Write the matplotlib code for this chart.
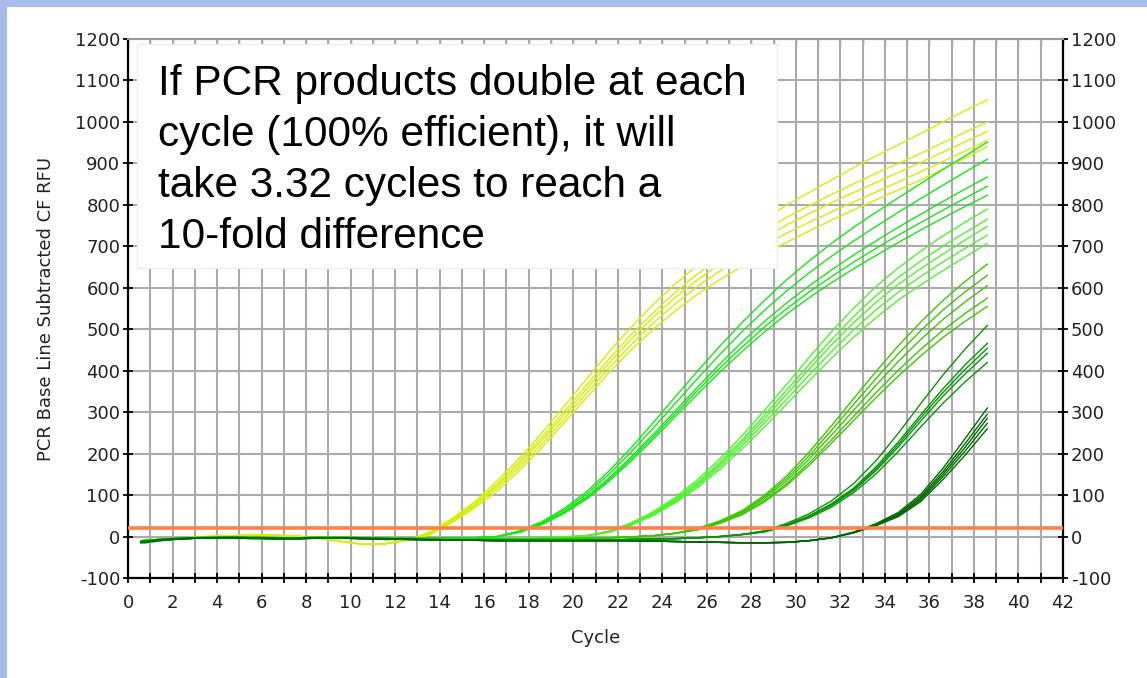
import numpy as np
import matplotlib
matplotlib.use('Agg')
import matplotlib.pyplot as plt
from matplotlib.patches import Rectangle
from matplotlib.ticker import MultipleLocator

plt.rcParams['axes.unicode_minus'] = False

# amplification curves, one reading per cycle (baseline part + exponential/plateau part)
cycle = np.arange(1, 40) - 0.4
threshold = 20

yellow_base = [-14, -8, -3, 0, 2, 3, 3, 1, -4, -12, -19, -17, -8]
yellow_rise = [
    [12, 45, 85, 135, 190, 250, 315, 380, 445, 505, 560, 610, 655, 695, 730, 765, 800, 830, 860, 890, 918, 945, 972, 1000, 1027, 1053],
    [10, 42, 80, 128, 182, 240, 302, 365, 428, 487, 540, 590, 634, 673, 708, 740, 770, 798, 825, 851, 876, 900, 924, 950, 975, 1000],
    [9, 40, 78, 124, 176, 233, 294, 356, 418, 476, 529, 577, 620, 658, 692, 723, 752, 779, 805, 830, 854, 878, 902, 927, 952, 977],
    [7, 38, 74, 118, 168, 224, 284, 346, 406, 463, 515, 562, 604, 641, 674, 704, 732, 758, 783, 807, 831, 855, 880, 905, 930, 955],
    [5, 35, 70, 110, 160, 215, 275, 335, 395, 450, 500, 545, 585, 620, 652, 682, 710, 737, 763, 788, 812, 836, 860, 886, 913, 940],
]

green2_base = [-16, -9, -5, -3, -3, -5, -6, -5, -3, -3, -5, -7, -6, -5, -4, -3, 0]
green2_rise = [
    [14, 36, 68, 108, 158, 214, 275, 338, 400, 460, 517, 570, 620, 665, 707, 746, 782, 817, 851, 885, 918, 951],
    [13, 34, 64, 102, 150, 204, 262, 322, 382, 440, 495, 546, 593, 636, 676, 713, 748, 782, 815, 847, 879, 910],
    [12, 32, 60, 96, 141, 192, 247, 304, 361, 417, 470, 519, 564, 605, 643, 679, 713, 746, 777, 808, 838, 867],
    [11, 31, 58, 93, 137, 187, 241, 297, 353, 407, 458, 506, 550, 590, 627, 662, 695, 727, 757, 787, 816, 845],
    [10, 29, 56, 90, 133, 182, 235, 290, 344, 397, 447, 494, 537, 576, 612, 646, 678, 709, 739, 768, 796, 823],
]

green3_base = [-12, -7, -4, -2, -2, -3, -4, -3, -2, -2, -3, -4, -5, -5, -6, -6, -5, -4, -3, -1, 2]
green3_rise = [
    [13, 33, 60, 95, 138, 188, 244, 305, 368, 432, 494, 551, 603, 648, 688, 725, 758, 790],
    [12, 31, 57, 91, 132, 180, 234, 293, 354, 415, 475, 531, 581, 625, 664, 700, 733, 765],
    [12, 30, 55, 88, 128, 175, 228, 285, 344, 404, 462, 516, 565, 608, 646, 681, 715, 748],
    [11, 29, 53, 85, 124, 169, 220, 275, 332, 390, 446, 499, 547, 589, 627, 662, 695, 727],
    [10, 27, 51, 82, 119, 163, 212, 265, 320, 376, 430, 481, 528, 570, 607, 641, 674, 707],
]

green4_base = [-10, -6, -3, -2, -1, -2, -3, -3, -2, -2, -3, -4, -4, -5, -5, -6, -6, -6, -5, -5, -4, -3, -1, 2, 8]
green4_rise = [
    [20, 38, 63, 100, 147, 204, 267, 333, 398, 460, 517, 569, 615, 657],
    [19, 36, 60, 96, 141, 195, 256, 319, 381, 441, 496, 546, 590, 630],
    [18, 35, 58, 92, 135, 187, 245, 305, 365, 422, 475, 523, 566, 605],
    [17, 33, 55, 87, 128, 178, 233, 290, 347, 401, 451, 497, 538, 575],
    [16, 32, 53, 84, 124, 172, 225, 280, 335, 387, 435, 480, 519, 555],
]

green5_base = [-12, -7, -4, -3, -2, -3, -4, -4, -3, -3, -4, -5, -6, -7, -8, -8, -8, -9, -9, -9, -8, -8, -7, -6, -5, -3, 0, 5]
green5_rise = [
    [14, 32, 55, 86, 128, 183, 249, 320, 389, 452, 509],
    [13, 29, 50, 79, 117, 168, 228, 293, 356, 414, 466],
    [12, 28, 49, 77, 114, 163, 222, 286, 347, 403, 454],
    [12, 27, 48, 75, 111, 159, 216, 278, 338, 392, 442],
    [11, 26, 45, 71, 106, 151, 205, 264, 321, 373, 420],
]

green6_base = [-14, -8, -5, -3, -3, -4, -5, -5, -4, -4, -5, -6, -7, -8, -9, -9, -10, -10, -10, -10,
               -10, -10, -10, -11, -12, -13, -14, -15, -15, -14, -10, -3]
green6_rise = [
    [11, 31, 58, 101, 164, 236, 310],
    [10, 29, 55, 96, 156, 224, 295],
    [10, 28, 52, 92, 150, 215, 285],
    [9, 27, 50, 88, 144, 206, 273],
    [9, 26, 48, 84, 137, 196, 260],
]

note_lines = [
    "If PCR products double at each",
    "cycle (100% efficient), it will",
    "take 3.32 cycles to reach a",
    "10-fold difference",
]

W, H = 1147, 678
fig = plt.figure(figsize=(W / 100, H / 100), dpi=100, facecolor='white')

# slide border strips
fig.patches.append(Rectangle((0, 1 - 7 / H), 1, 7 / H, transform=fig.transFigure,
                             facecolor='#aabdec', edgecolor='none', zorder=0))
fig.patches.append(Rectangle((0, 0), 7 / W, 1, transform=fig.transFigure,
                             facecolor='#a9bcec', edgecolor='none', zorder=0))

ax = fig.add_axes([128 / W, 1 - 578 / H, 935 / W, 539 / H])

series = [
    (yellow_base, yellow_rise, '#d6ef00'),
    (green2_base, green2_rise, '#12ea12'),
    (green3_base, green3_rise, '#4cf52a'),
    (green4_base, green4_rise, '#3cc800'),
    (green5_base, green5_rise, '#049804'),
    (green6_base, green6_rise, '#006a00'),
]
for base, rises, col in series:
    for rise in rises:
        ax.plot(cycle, base + rise, color=col, lw=1.0, zorder=3)

ax.axhline(threshold, color='#ff8047', lw=2.6, zorder=4)

ax.set_xlim(0, 42)
ax.set_ylim(-100, 1200)
ax.xaxis.set_major_locator(MultipleLocator(2))
ax.xaxis.set_minor_locator(MultipleLocator(1))
ax.yaxis.set_major_locator(MultipleLocator(100))
ax.grid(which='both', color='#ababab', lw=1.5)
ax.set_axisbelow(True)

ax.tick_params(axis='both', which='both', direction='inout', length=7, width=1.3,
               color='black', labelsize=13, labelcolor='#222222')
ax.tick_params(axis='y', right=True, labelright=True, pad=2)
ax.tick_params(axis='x', pad=8)
for side in ['left', 'bottom', 'right']:
    ax.spines[side].set_color('black')
    ax.spines[side].set_linewidth(1.6)
ax.spines['top'].set_color('#9a9a9a')
ax.spines['top'].set_linewidth(1.5)

top = ax.secondary_xaxis('top')
top.xaxis.set_major_locator(MultipleLocator(1))
top.tick_params(direction='in', length=4, width=1.0, color='#888888', labeltop=False)
top.spines['top'].set_visible(False)

ax.set_xlabel('Cycle', fontsize=13, color='#222222')
ax.xaxis.set_label_coords(0.5, -0.095)
ax.set_ylabel('PCR Base Line Subtracted CF RFU', fontsize=13, color='#222222')
ax.yaxis.set_label_coords(-0.078, 0.5)

# note box
ax.add_patch(Rectangle((0.0096, 0.5746), 0.684, 0.417, transform=ax.transAxes,
                       facecolor='white', edgecolor='#ececec', lw=1.0, zorder=6))
for i, line in enumerate(note_lines):
    fig.text(158 / W, 1 - (95 + 51 * i) / H, line, fontsize=30.5, family='Liberation Sans',
             color='black', va='baseline', ha='left', zorder=7)

plt.savefig('out.png', dpi=100, facecolor='white')
